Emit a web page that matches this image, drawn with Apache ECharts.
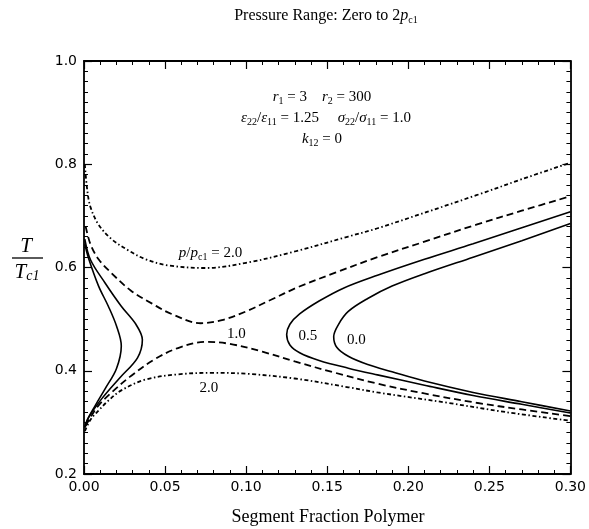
<!DOCTYPE html>
<html>
<head>
<meta charset="utf-8">
<script src="https://cdn.jsdelivr.net/npm/echarts@6/dist/echarts.min.js"></script>
<style>
  html, body { margin: 0; padding: 0; background: #fff; }
  #chart { width: 589px; height: 529px; }
</style>
</head>
<body>
<div id="chart"></div>
<script>
// 轴范围
const xRange = [0, 0.30, 0.05];
const yRange = [0.2, 1.0, 0.2];

// p/pc1 = 0.0 (实线)
const p00Left = [[0.0005, 0.645], [0.003, 0.616], [0.009, 0.564], [0.015, 0.525], [0.02, 0.487], [0.023, 0.448],
    [0.02, 0.404], [0.013, 0.365], [0.007, 0.333], [0.002, 0.305], [0.0005, 0.29]];
const p00Right = [[0.30, 0.685], [0.27, 0.652], [0.24, 0.62], [0.21, 0.588], [0.19, 0.564], [0.175, 0.54],
    [0.163, 0.515], [0.157, 0.49], [0.154, 0.466], [0.156, 0.445], [0.163, 0.428], [0.175, 0.412],
    [0.19, 0.398], [0.21, 0.38], [0.24, 0.358], [0.27, 0.34], [0.30, 0.322]];

// p/pc1 = 0.5 (实线)
const p05Left = [[0.0005, 0.655], [0.004, 0.615], [0.013, 0.57], [0.023, 0.525], [0.032, 0.49], [0.036, 0.46],
    [0.033, 0.425], [0.022, 0.386], [0.011, 0.346], [0.003, 0.31], [0.0005, 0.29]];
const p05Right = [[0.30, 0.708], [0.27, 0.677], [0.24, 0.646], [0.21, 0.616], [0.181, 0.585], [0.16, 0.56],
    [0.145, 0.535], [0.133, 0.51], [0.127, 0.49], [0.125, 0.47], [0.127, 0.45], [0.133, 0.435],
    [0.145, 0.42], [0.163, 0.405], [0.181, 0.392], [0.21, 0.372], [0.24, 0.352], [0.27, 0.335], [0.30, 0.318]];

// p/pc1 = 1.0 (虚线)
const p10Upper = [[0.001, 0.68], [0.004, 0.645], [0.009, 0.616], [0.017, 0.589], [0.029, 0.555], [0.042, 0.53],
    [0.054, 0.51], [0.072, 0.492], [0.085, 0.498], [0.10, 0.515], [0.115, 0.537], [0.132, 0.562],
    [0.155, 0.59], [0.181, 0.62], [0.21, 0.65], [0.242, 0.683], [0.27, 0.71], [0.30, 0.738]];
const p10Lower = [[0.001, 0.293], [0.004, 0.31], [0.009, 0.333], [0.017, 0.358], [0.029, 0.39], [0.044, 0.423],
    [0.058, 0.444], [0.075, 0.456], [0.09, 0.452], [0.11, 0.437], [0.13, 0.418], [0.155, 0.396],
    [0.181, 0.375], [0.21, 0.356], [0.242, 0.338], [0.27, 0.325], [0.30, 0.312]];

// p/pc1 = 2.0 (点划线)
const p20Upper = [[0.0005, 0.80], [0.002, 0.75], [0.004, 0.717], [0.009, 0.683], [0.017, 0.655], [0.028, 0.632],
    [0.038, 0.616], [0.052, 0.604], [0.075, 0.599], [0.10, 0.609], [0.13, 0.631], [0.163, 0.66],
    [0.181, 0.676], [0.242, 0.74], [0.27, 0.771], [0.30, 0.803]];
const p20Lower = [[0.0005, 0.283], [0.004, 0.305], [0.009, 0.323], [0.015, 0.342], [0.023, 0.362], [0.038, 0.383],
    [0.058, 0.393], [0.08, 0.396], [0.101, 0.394], [0.13, 0.385], [0.163, 0.368], [0.181, 0.358],
    [0.224, 0.338], [0.26, 0.32], [0.30, 0.303]];

// 曲线标注 (数据坐标)
const curveLabels = [
    { text: '{i|p}{n|/}{i|p}{s|c1}{n| = 2.0}', at: [0.078, 0.628] },
    { text: '{n|1.0}', at: [0.094, 0.471] },
    { text: '{n|0.5}', at: [0.138, 0.468] },
    { text: '{n|0.0}', at: [0.168, 0.46] },
    { text: '{n|2.0}', at: [0.077, 0.367] }
];

const serif = 'Liberation Serif';
const rich = {
    n: { fontFamily: serif, fontSize: 15, color: '#000', lineHeight: 18 },
    i: { fontFamily: serif, fontStyle: 'italic', fontSize: 15, color: '#000', lineHeight: 18 },
    s: { fontFamily: serif, fontSize: 10, color: '#000', verticalAlign: 'bottom', padding: [5, 0, 0, 0] }
};

let myechart = echarts.init(document.getElementById('chart'));

function curve(data, dash) {
    return {
        type: 'line',
        data: data,
        showSymbol: false,
        smooth: 0.35,
        silent: true,
        lineStyle: { color: '#000', width: dash ? 1.8 : 1.6, type: dash || 'solid' },
        clip: true
    };
}
const dashed = [7, 4];
const dashDot = [4, 2.5, 1.5, 2.5];

function xAxisOf(pos, labels) {
    return {
        type: 'value', position: pos,
        min: xRange[0], max: xRange[1], interval: xRange[2],
        axisLine: { show: true, onZero: false, lineStyle: { color: '#000', width: 1.8 } },
        axisTick: { show: true, inside: true, length: 8, lineStyle: { color: '#000', width: 1.2 } },
        minorTick: { show: true, splitNumber: 5, length: 4, lineStyle: { color: '#000', width: 1 } },
        splitLine: { show: false },
        axisLabel: {
            show: labels, color: '#000', fontFamily: 'DejaVu Sans', fontSize: 14, margin: 6,
            formatter: function (v) { return v.toFixed(2); }
        }
    };
}
function yAxisOf(pos, labels) {
    return {
        type: 'value', position: pos,
        min: yRange[0], max: yRange[1], interval: yRange[2],
        axisLine: { show: true, onZero: false, lineStyle: { color: '#000', width: 1.8 } },
        axisTick: { show: true, inside: true, length: 8, lineStyle: { color: '#000', width: 1.2 } },
        minorTick: { show: true, splitNumber: 10, length: 4, lineStyle: { color: '#000', width: 1 } },
        splitLine: { show: false },
        axisLabel: {
            show: labels, color: '#000', fontFamily: 'DejaVu Sans', fontSize: 14, margin: 7,
            formatter: function (v) { return v.toFixed(1); }
        }
    };
}

var option = {
    animation: false,
    backgroundColor: '#fff',
    grid: { left: 84, right: 15, top: 61, bottom: 55 },
    xAxis: [xAxisOf('bottom', true), xAxisOf('top', false)],
    yAxis: [yAxisOf('left', true), yAxisOf('right', false)],
    series: [
        curve(p00Left), curve(p00Right),
        curve(p05Left), curve(p05Right),
        curve(p10Upper, dashed), curve(p10Lower, dashed),
        curve(p20Upper, dashDot), curve(p20Lower, dashDot)
    ]
};
myechart.setOption(option);

function richText(x, y, text) {
    return {
        type: 'text', x: x, y: y,
        style: { text: text, align: 'center', verticalAlign: 'middle', rich: rich }
    };
}

// 文字: 标题, 参数, 轴名, 曲线标注
let g = [
    {
        type: 'text', x: 326, y: 16,
        style: {
            text: '{t|Pressure Range: Zero to 2}{i|p}{s|c1}', align: 'center', verticalAlign: 'middle',
            rich: {
                t: { fontFamily: serif, fontSize: 16, color: '#000', lineHeight: 19 },
                i: { fontFamily: serif, fontStyle: 'italic', fontSize: 16, color: '#000', lineHeight: 19 },
                s: rich.s
            }
        }
    },
    richText(322, 97, '{i|r}{s|1}{n| = 3    }{i|r}{s|2}{n| = 300}'),
    richText(326, 118, '{i|ε}{s|22}{n|/}{i|ε}{s|11}{n| = 1.25     }{i|σ}{s|22}{n|/}{i|σ}{s|11}{n| = 1.0}'),
    richText(322, 139, '{i|k}{s|12}{n| = 0}'),
    {
        type: 'text', x: 328, y: 517,
        style: {
            text: 'Segment Fraction Polymer', align: 'center', verticalAlign: 'middle',
            fontFamily: serif, fontSize: 18, fill: '#000'
        }
    },
    {
        type: 'text', x: 26, y: 246,
        style: { text: 'T', align: 'center', verticalAlign: 'middle', fontFamily: serif, fontStyle: 'italic', fontSize: 21, fill: '#000' }
    },
    { type: 'line', shape: { x1: 12, y1: 258, x2: 43, y2: 258 }, style: { stroke: '#000', lineWidth: 1.3 } },
    {
        type: 'text', x: 27, y: 272,
        style: {
            text: '{t|T}{c|c1}', align: 'center', verticalAlign: 'middle',
            rich: {
                t: { fontFamily: serif, fontStyle: 'italic', fontSize: 21, color: '#000', lineHeight: 22 },
                c: { fontFamily: serif, fontStyle: 'italic', fontSize: 14, color: '#000', verticalAlign: 'bottom', padding: [4, 0, 0, 0] }
            }
        }
    }
];
curveLabels.forEach(function (lb) {
    let p = myechart.convertToPixel({ xAxisIndex: 0, yAxisIndex: 0 }, lb.at);
    g.push(richText(p[0], p[1], lb.text));
});
myechart.setOption({ graphic: g });
</script>
</body>
</html>
